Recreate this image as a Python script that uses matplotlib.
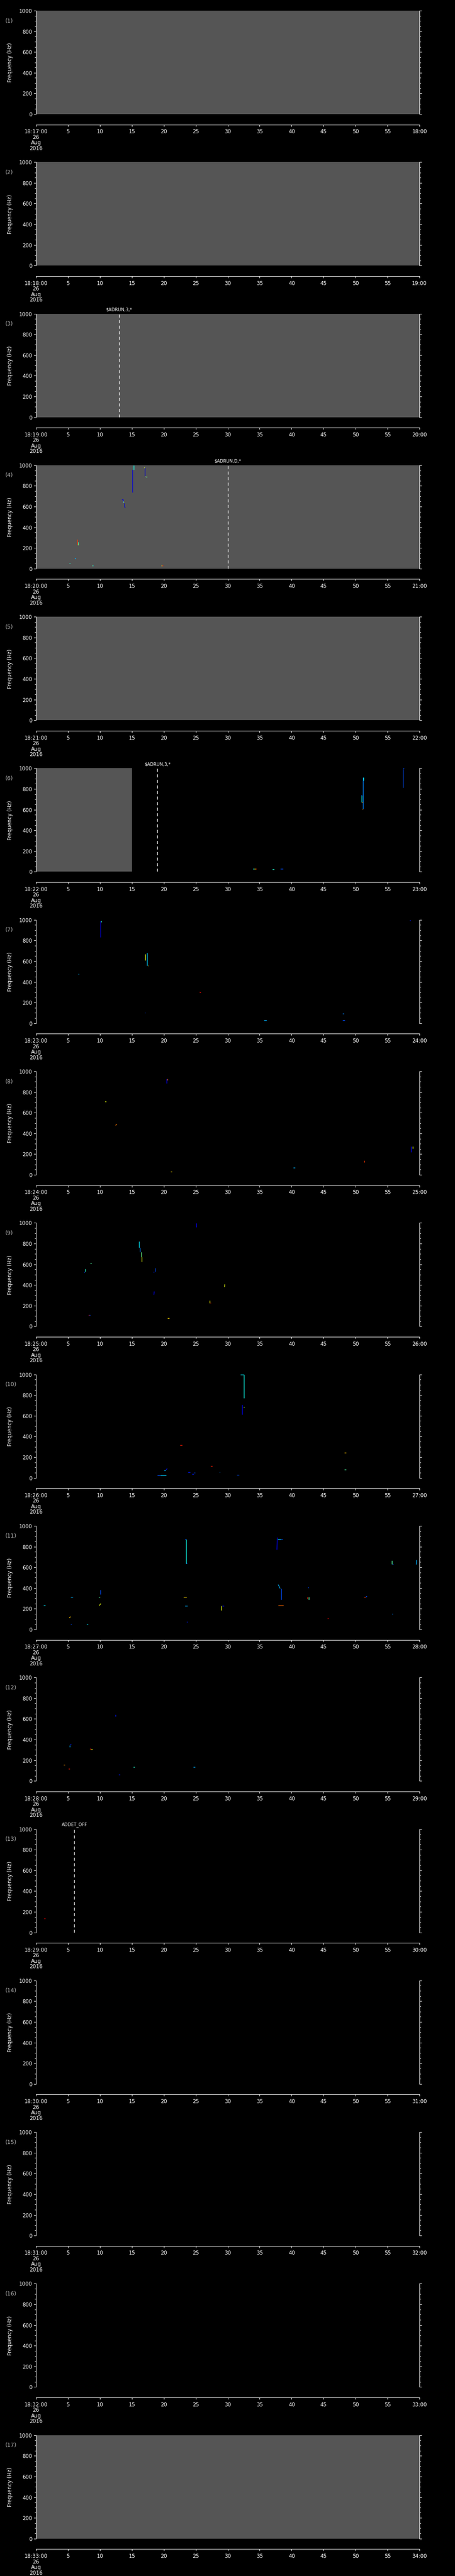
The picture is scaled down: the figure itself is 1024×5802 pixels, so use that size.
import matplotlib
matplotlib.use("Agg")
import matplotlib.pyplot as plt
from matplotlib.ticker import MultipleLocator

plt.rcParams["font.family"] = ["DejaVu Sans"]

W, H = 1024, 5802
N_PANELS = 17
PANEL_H = H / N_PANELS

# one panel per minute, 18:17 .. 18:33 on 26 Aug 2016
panel_minutes = list(range(17, 34))
date_lines = ["26", "Aug", "2016"]
freq_ticks = [0, 200, 400, 600, 800, 1000]
sec_ticks = list(range(0, 61, 5))

# panels (1-based) with data coverage (gray) and how far it goes
gray_panels = [1, 2, 3, 4, 5, 6, 17]
gray_until = [60, 60, 60, 60, 60, 15, 60]

# command markers
event_panels = [3, 4, 6, 13]
event_secs = [13, 30, 19, 6]
event_names = ["$ADRUN,3,*", "$ADRUN,D,*", "$ADRUN,3,*", "ADDET_OFF"]

# detected traces: (t0 s, t1 s, f0 Hz, f1 Hz, level 0..1)
marks_04 = [
    (15.1, 15.1, 737, 956, 0.08), (15.3, 15.3, 956, 1000, 0.37),
    (17.0, 17.0, 984, 894, 0.08), (16.9, 17.0, 976, 976, 0.62),
    (17.1, 17.2, 893, 893, 0.63), (17.2, 17.35, 890, 890, 0.45),
    (13.45, 13.6, 669, 669, 0.08), (13.6, 13.6, 669, 640, 0.12),
    (13.7, 13.75, 650, 636, 0.5), (13.85, 13.85, 636, 598, 0.08),
    (13.85, 13.95, 598, 598, 0.08),
    (6.47, 6.47, 283, 230, 0.85), (6.6, 6.6, 256, 230, 0.45),
    (6.55, 6.65, 230, 230, 0.55),
    (6.05, 6.2, 104, 104, 0.3), (6.2, 6.2, 104, 95, 0.3),
    (5.2, 5.35, 50, 50, 0.4),
    (8.75, 8.85, 29, 29, 0.63), (8.85, 8.95, 29, 29, 0.35),
    (19.6, 19.75, 29, 29, 0.63), (19.75, 19.9, 29, 29, 0.88),
]
marks_06 = [
    (57.4, 57.4, 814, 990, 0.2), (57.45, 57.6, 990, 1000, 0.2),
    (51.2, 51.2, 609, 913, 0.25), (51.25, 51.25, 913, 880, 0.37),
    (50.96, 50.96, 741, 671, 0.37), (50.9, 50.96, 741, 741, 0.15),
    (51.0, 51.15, 671, 671, 0.75), (51.0, 51.15, 609, 609, 0.75),
    (33.95, 34.15, 27, 27, 0.35), (34.15, 34.35, 27, 27, 0.65),
    (34.35, 34.5, 27, 27, 0.85),
    (37.0, 37.3, 23, 23, 0.4), (38.25, 38.65, 27, 27, 0.2),
]
marks_07 = [
    (10.05, 10.05, 831, 992, 0.07), (10.2, 10.2, 976, 992, 0.4),
    (17.08, 17.08, 669, 610, 0.63), (17.39, 17.39, 681, 556, 0.33),
    (17.5, 17.6, 556, 556, 0.63), (6.67, 6.67, 480, 471, 0.3),
    (25.6, 25.8, 303, 294, 0.9), (17.0, 17.1, 103, 103, 0.2),
    (35.7, 36.1, 31, 31, 0.3), (48.0, 48.2, 95, 95, 0.25),
    (47.95, 48.3, 27, 27, 0.2), (58.45, 58.6, 995, 995, 0.15),
]
marks_08 = [
    (20.45, 20.45, 885, 926, 0.12), (20.55, 20.55, 926, 915, 0.8),
    (10.8, 11.0, 709, 709, 0.63), (12.45, 12.65, 478, 489, 0.78),
    (21.05, 21.25, 29, 29, 0.68), (40.25, 40.5, 69, 69, 0.3),
    (51.4, 51.4, 120, 139, 0.85), (58.7, 58.7, 220, 273, 0.12),
    (58.95, 58.95, 255, 273, 0.63),
]
marks_09 = [
    (25.1, 25.1, 957, 998, 0.1),
    (16.15, 16.15, 760, 823, 0.35), (16.3, 16.3, 720, 760, 0.25),
    (16.45, 16.45, 673, 720, 0.48), (16.55, 16.55, 624, 673, 0.63),
    (8.5, 8.7, 612, 612, 0.45),
    (7.6, 7.6, 519, 530, 0.2), (7.75, 7.75, 530, 557, 0.4),
    (18.45, 18.45, 519, 530, 0.15), (18.6, 18.6, 530, 563, 0.2),
    (18.45, 18.5, 304, 337, 0.1), (29.5, 29.55, 381, 407, 0.63),
    (27.2, 27.2, 223, 250, 0.65), (27.3, 27.3, 223, 230, 0.88),
    (8.2, 8.35, 107, 107, 0.9), (8.35, 8.5, 107, 107, 0.2),
    (20.6, 20.85, 77, 77, 0.68),
]
marks_10 = [
    (32.0, 32.55, 998, 998, 0.35), (32.55, 32.55, 773, 998, 0.37),
    (32.25, 32.25, 614, 707, 0.1), (32.5, 32.6, 685, 685, 0.55),
    (22.5, 22.85, 315, 315, 0.88), (27.3, 27.6, 113, 113, 0.88),
    (48.25, 48.5, 245, 245, 0.7), (48.25, 48.5, 79, 79, 0.45),
    (19.0, 19.5, 23, 23, 0.2), (19.5, 20.35, 23, 23, 0.33),
    (20.0, 20.3, 72, 72, 0.3), (20.35, 20.55, 80, 89, 0.15),
    (23.75, 24.1, 56, 56, 0.15), (24.4, 24.7, 35, 35, 0.15),
    (24.75, 24.9, 51, 51, 0.2), (28.7, 28.8, 56, 56, 0.25),
    (31.45, 31.75, 28, 28, 0.2),
]
marks_11 = [
    (23.5, 23.5, 635, 872, 0.37), (23.3, 23.5, 872, 872, 0.2),
    (23.6, 23.65, 645, 635, 0.2),
    (37.7, 37.75, 770, 888, 0.12), (37.8, 38.3, 872, 872, 0.35),
    (38.3, 38.6, 872, 872, 0.2),
    (37.9, 38.2, 433, 396, 0.3), (38.35, 38.35, 396, 286, 0.2),
    (37.9, 38.7, 230, 230, 0.8),
    (42.6, 42.7, 400, 405, 0.2), (42.5, 42.5, 312, 295, 0.88),
    (42.7, 42.7, 312, 286, 0.45),
    (51.3, 51.6, 312, 312, 0.85), (51.6, 51.8, 312, 320, 0.2),
    (55.7, 55.7, 632, 664, 0.45), (55.75, 55.9, 632, 632, 0.2),
    (59.5, 59.55, 627, 671, 0.3), (55.7, 55.85, 150, 150, 0.25),
    (45.6, 45.75, 108, 108, 0.9),
    (29.0, 29.0, 183, 229, 0.63), (29.1, 29.4, 229, 229, 0.15),
    (23.3, 23.7, 227, 227, 0.3), (23.6, 23.7, 74, 74, 0.15),
    (23.05, 23.6, 314, 314, 0.68),
    (1.15, 1.45, 230, 230, 0.35), (5.45, 5.8, 312, 312, 0.3),
    (10.1, 10.1, 339, 383, 0.2), (9.8, 10.0, 312, 312, 0.45),
    (9.9, 10.15, 230, 250, 0.63), (5.2, 5.4, 110, 123, 0.7),
    (5.45, 5.55, 51, 51, 0.2), (7.9, 8.1, 51, 51, 0.35),
]
marks_12 = [
    (12.45, 12.45, 625, 641, 0.15),
    (5.3, 5.3, 329, 345, 0.3), (5.4, 5.5, 345, 357, 0.15),
    (8.4, 8.6, 312, 312, 0.88), (8.6, 8.8, 304, 304, 0.63),
    (4.3, 4.5, 156, 156, 0.75), (5.1, 5.3, 117, 117, 0.88),
    (15.2, 15.4, 135, 135, 0.4), (24.6, 24.9, 135, 135, 0.3),
    (12.9, 13.15, 61, 61, 0.15),
]
marks_13 = [
    (1.27, 1.49, 136, 136, 0.92),
]

marks_by_panel = {4: marks_04, 6: marks_06, 7: marks_07, 8: marks_08,
                  9: marks_09, 10: marks_10, 11: marks_11, 12: marks_12,
                  13: marks_13}

FS = 8.5
cmap = plt.get_cmap("jet")

fig = plt.figure(figsize=(W / 100, H / 100), dpi=100, facecolor="black")

for i in range(N_PANELS):
    num = i + 1
    top = 24 + i * PANEL_H
    ax = fig.add_axes([81 / W, 1 - (top + 233) / H, 863 / W, 233 / H])
    ax.set_facecolor("black")
    ax.set_xlim(0, 60)
    ax.set_ylim(0, 1000)

    if num in gray_panels:
        ax.axvspan(0, gray_until[gray_panels.index(num)], color="#555555", lw=0, zorder=0)

    for t0, t1, f0, f1, lev in marks_by_panel.get(num, []):
        ax.plot([t0, t1], [f0, f1], color=cmap(lev), lw=1.0, solid_capstyle="butt")

    if num in event_panels:
        k = event_panels.index(num)
        ax.axvline(event_secs[k], color="white", lw=1.0, ls=(0, (5, 4)))
        ax.annotate(event_names[k], (event_secs[k], 1000), xytext=(0, 3),
                    textcoords="offset points", ha="center", va="bottom",
                    color="white", fontsize=7, annotation_clip=False, parse_math=False)

    # axes styling, IDL-like
    ax.spines["top"].set_visible(False)
    ax.spines["bottom"].set_position(("outward", 17))
    for side in ["left", "right", "bottom"]:
        ax.spines[side].set_color("white")
        ax.spines[side].set_linewidth(0.8)

    ax.set_yticks(freq_ticks)
    ax.set_yticklabels([str(v) for v in freq_ticks])
    ax.yaxis.set_minor_locator(MultipleLocator(50))
    ax.tick_params(axis="y", which="both", direction="out", colors="white",
                   left=True, right=True, labelright=False, width=0.8,
                   labelsize=FS, pad=2.5)
    ax.tick_params(axis="y", which="major", length=3.6)
    ax.tick_params(axis="y", which="minor", length=2.2)

    m = panel_minutes[i]
    first = "\n".join([f"18:{m:02d}:00"] + date_lines)
    xlabels = [first] + [str(s) for s in sec_ticks[1:-1]] + [f"{m + 1:02d}:00"]
    ax.set_xticks(sec_ticks)
    ax.set_xticklabels(xlabels)
    ax.tick_params(axis="x", direction="out", length=3, width=0.8, colors="white",
                   labelsize=FS, pad=4)
    for lab in ax.get_xticklabels():
        lab.set_linespacing(0.95)

    fig.text(12 / W, 1 - (top + 23) / H, f"({num})", color="#b4b4b4",
             fontsize=9, ha="left", va="center")
    fig.text(23 / W, 1 - (top + 117) / H, "Frequency (Hz)", color="white",
             fontsize=FS, rotation=90, ha="center", va="center")

fig.savefig("out.png", dpi=100, facecolor="black")
